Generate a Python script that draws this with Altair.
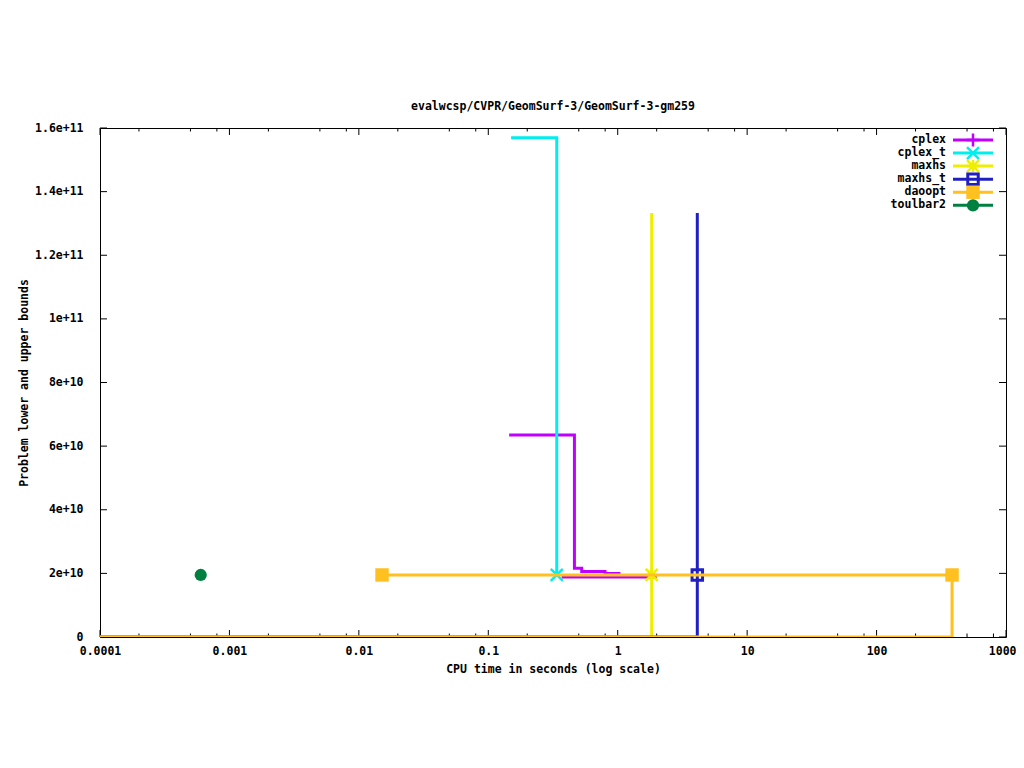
import altair as alt
import pandas as pd

# ---------------- data ----------------
series_names = ["cplex", "cplex_t", "maxhs", "maxhs_t", "daoopt", "toulbar2"]
series_colors = ["#c000ff", "#00eeee", "#eeee00", "#2020c0", "#ffc020", "#008040"]

# cplex
cplex_ub_t = [0.145, 0.463, 0.527, 0.798, 1.05]
cplex_ub_v = [6.35e10, 2.16e10, 2.06e10, 2.0e10, 2.0e10]
cplex_lb_t = [0.369, 2.0]
cplex_lb_v = [1.886e10, 1.886e10]
cplex_pt_t = []
cplex_pt_v = []

# cplex_t
cplex_t_ub_t = [0.150, 0.338]
cplex_t_ub_v = [1.569e11, 1.95e10]
cplex_t_pt_t = [0.338]
cplex_t_pt_v = [1.95e10]

# maxhs
maxhs_ub_t = [1.83, 1.83]
maxhs_ub_v = [1.333e11, 1.95e10]
maxhs_lb_t = [0.0001, 1.83, 1.83]
maxhs_lb_v = [0, 0, 1.95e10]
maxhs_pt_t = [1.83]
maxhs_pt_v = [1.95e10]

# maxhs_t
maxhs_t_ub_t = [4.12, 4.12]
maxhs_t_ub_v = [1.333e11, 1.95e10]
maxhs_t_lb_t = [0.0001, 4.12, 4.12]
maxhs_t_lb_v = [0, 0, 1.95e10]
maxhs_t_pt_t = [4.12]
maxhs_t_pt_v = [1.95e10]

# daoopt
daoopt_ub_t = [0.0151, 383]
daoopt_ub_v = [1.95e10, 1.95e10]
daoopt_lb_t = [0.0001, 383, 383]
daoopt_lb_v = [0, 0, 1.95e10]
daoopt_pt_t = [0.0151, 383]
daoopt_pt_v = [1.95e10, 1.95e10]

# toulbar2
toulbar2_pt_t = [0.0006]
toulbar2_pt_v = [1.95e10]

x_major = [0.0001, 0.001, 0.01, 0.1, 1, 10, 100, 1000]
x_minor = [0.0002, 0.0005, 0.0008, 0.002, 0.005, 0.008, 0.02, 0.05, 0.08,
           0.2, 0.5, 0.8, 2, 5, 8, 20, 50, 80, 200, 500, 800]
y_major = [0, 2e10, 4e10, 6e10, 8e10, 1e11, 1.2e11, 1.4e11, 1.6e11]

title_text = "evalwcsp/CVPR/GeomSurf-3/GeomSurf-3-gm259"
x_title = "CPU time in seconds (log scale)"
y_title = "Problem lower and upper bounds"

# ---------------- styling ----------------
W, H = 906, 509
FONT = "DejaVu Sans Mono"
FS = 11.5
LW = 3

P_PLUS = "M-1,0H1M0,-1V1"
P_X = "M-1,-1L1,1M-1,1L1,-1"
P_STAR = "M-1,0H1M0,-1V1M-1,-1L1,1M-1,1L1,-1"

marker_style = {
    "cplex": dict(shape=P_PLUS, filled=False, size=169, strokeWidth=2.5),
    "cplex_t": dict(shape=P_X, filled=False, size=144, strokeWidth=2.5),
    "maxhs": dict(shape=P_STAR, filled=False, size=144, strokeWidth=2.5),
    "maxhs_t": dict(shape="square", filled=False, size=110, strokeWidth=3),
    "daoopt": dict(shape="square", filled=True, size=180, strokeWidth=0),
    "toulbar2": dict(shape="circle", filled=True, size=150, strokeWidth=0),
}

xscale = alt.Scale(type="log", domain=[1e-4, 1000], nice=False)
yscale = alt.Scale(domain=[0, 1.6e11], nice=False, zero=False)

last_label_test = "datum.value >= 999"
xaxis = alt.Axis(values=x_major, labelExpr="format(datum.value, '~g')",
                 ticks=False, tickSize=0, domain=False, grid=False,
                 labelFlush=False, labelOverlap=False, labelPadding=8,
                 labelAlign={"condition": {"test": last_label_test, "value": "right"},
                             "value": "center"},
                 labelOffset={"condition": {"test": last_label_test, "value": 10},
                              "value": 0},
                 title=x_title, titlePadding=7,
                 labelFont=FONT, labelFontSize=FS, labelFontWeight="bold",
                 titleFont=FONT, titleFontSize=FS, titleFontWeight="bold",
                 labelColor="black", titleColor="black")
yaxis = alt.Axis(values=y_major,
                 labelExpr="datum.value == 0 ? '0' : format(datum.value, '~e')",
                 ticks=False, tickSize=0, domain=False, grid=False,
                 labelFlush=False, labelOverlap=False, labelPadding=17,
                 title=y_title, titlePadding=5,
                 labelFont=FONT, labelFontSize=FS, labelFontWeight="bold",
                 titleFont=FONT, titleFontSize=FS, titleFontWeight="bold",
                 labelColor="black", titleColor="black")

X = alt.X("t:Q", scale=xscale, axis=xaxis)
Y = alt.Y("v:Q", scale=yscale, axis=yaxis)


def df(ts, vs):
    return pd.DataFrame({"t": ts, "v": vs, "i": list(range(len(ts)))})


def line_layer(ts, vs, color):
    return alt.Chart(df(ts, vs)).mark_line(
        interpolate="step-after", strokeWidth=LW, color=color, clip=True
    ).encode(x=X, y=Y, order="i:Q")


def point_layer(ts, vs, name, color):
    st = marker_style[name]
    return alt.Chart(df(ts, vs)).mark_point(
        shape=st["shape"], filled=st["filled"], size=st["size"],
        strokeWidth=st["strokeWidth"], color=color, opacity=1, clip=True
    ).encode(x=X, y=Y)


series_lines = {
    "cplex": [(cplex_ub_t, cplex_ub_v), (cplex_lb_t, cplex_lb_v)],
    "cplex_t": [(cplex_t_ub_t, cplex_t_ub_v)],
    "maxhs": [(maxhs_ub_t, maxhs_ub_v), (maxhs_lb_t, maxhs_lb_v)],
    "maxhs_t": [(maxhs_t_ub_t, maxhs_t_ub_v), (maxhs_t_lb_t, maxhs_t_lb_v)],
    "daoopt": [(daoopt_ub_t, daoopt_ub_v), (daoopt_lb_t, daoopt_lb_v)],
    "toulbar2": [],
}
series_points = {
    "cplex": (cplex_pt_t, cplex_pt_v),
    "cplex_t": (cplex_t_pt_t, cplex_t_pt_v),
    "maxhs": (maxhs_pt_t, maxhs_pt_v),
    "maxhs_t": (maxhs_t_pt_t, maxhs_t_pt_v),
    "daoopt": (daoopt_pt_t, daoopt_pt_v),
    "toulbar2": (toulbar2_pt_t, toulbar2_pt_v),
}

layers = []


# inward tick marks (all four sides)
def xticks(vals, length):
    d = pd.DataFrame({"t": vals})
    bot = alt.Chart(d).mark_rule(color="black", strokeWidth=1).encode(
        x=X, y=alt.value(H), y2=alt.value(H - length))
    top = alt.Chart(d).mark_rule(color="black", strokeWidth=1).encode(
        x=X, y=alt.value(0), y2=alt.value(length))
    return [bot, top]


def yticks(vals, length):
    d = pd.DataFrame({"v": vals})
    left = alt.Chart(d).mark_rule(color="black", strokeWidth=1).encode(
        y=Y, x=alt.value(0), x2=alt.value(length))
    right = alt.Chart(d).mark_rule(color="black", strokeWidth=1).encode(
        y=Y, x=alt.value(W), x2=alt.value(W - length))
    return [left, right]


layers += xticks(x_major, 7) + xticks(x_minor, 3.5) + yticks(y_major, 7)

# data series in gnuplot drawing order
for name, color in zip(series_names, series_colors):
    for ts, vs in series_lines[name]:
        layers.append(line_layer(ts, vs, color))
    pts, pvs = series_points[name]
    if pts:
        layers.append(point_layer(pts, pvs, name, color))

# gnuplot-style key (label, then line sample with marker)
KEY_TEXT_X = 846
KEY_LINE_X1, KEY_LINE_X2 = 853, 893
KEY_MARK_X = 873
for k, (name, color) in enumerate(zip(series_names, series_colors)):
    ky = 12 + 13.06 * k
    kd = alt.Data(values=[{"name": name}])
    layers.append(alt.Chart(kd).mark_text(
        align="right", baseline="middle", font=FONT, fontSize=FS,
        fontWeight="bold", color="black"
    ).encode(x=alt.value(KEY_TEXT_X), y=alt.value(ky), text="name:N"))
    layers.append(alt.Chart(kd).mark_rule(strokeWidth=LW, color=color).encode(
        x=alt.value(KEY_LINE_X1), x2=alt.value(KEY_LINE_X2), y=alt.value(ky)))
    st = marker_style[name]
    layers.append(alt.Chart(kd).mark_point(
        shape=st["shape"], filled=st["filled"], size=st["size"],
        strokeWidth=st["strokeWidth"], color=color, opacity=1
    ).encode(x=alt.value(KEY_MARK_X), y=alt.value(ky)))

chart = alt.layer(*layers).properties(
    width=W, height=H,
    padding={"left": 92, "top": 120, "right": 10, "bottom": 100},
    autosize=alt.AutoSizeParams(type="none"),
    title=alt.Title(title_text, font=FONT, fontSize=FS, fontWeight="bold",
                    color="black", anchor="middle", offset=10),
    background="white",
).configure_view(stroke="black", strokeWidth=1)

chart.save("out.html", embed_options={"renderer": "svg", "actions": False})
